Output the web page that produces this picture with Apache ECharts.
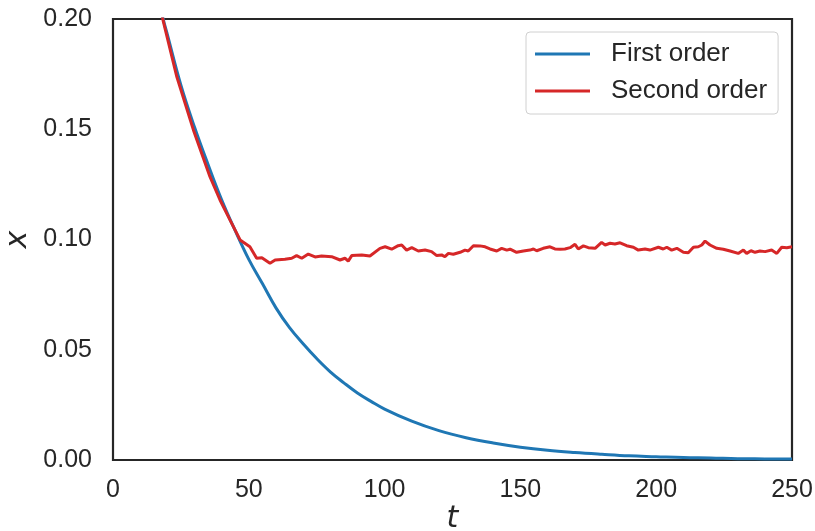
<!DOCTYPE html>
<html>
<head>
<meta charset="utf-8">
<script src="https://cdn.jsdelivr.net/npm/echarts@6/dist/echarts.min.js"></script>
<style>
html,body{margin:0;padding:0;background:#fff;}
#chart{width:815px;height:531px;}
</style>
</head>
<body>
<div id="chart"></div>
<script>
// Series names
const seriesNames = ['First order', 'Second order'];

// First order curve (t, x)
const firstT = [10, 15, 18.5, 20, 25, 30, 35, 40, 45, 50, 55, 60, 65, 70, 75, 80, 85, 90, 95, 100, 110, 120, 130, 140, 150, 160, 170, 180, 190, 200, 210, 220, 230, 240, 250];
const firstX = [0.255, 0.222, 0.200, 0.193, 0.170, 0.151, 0.134, 0.118, 0.104, 0.091, 0.080, 0.069, 0.060, 0.0527, 0.046, 0.040, 0.035, 0.0304, 0.0266, 0.0231, 0.0176, 0.0133, 0.0101, 0.0077, 0.0058, 0.0044, 0.0034, 0.0026, 0.0019, 0.0015, 0.0011, 0.0009, 0.0006, 0.0005, 0.0004];

// Second order curve (t, x)
const secondT = [10, 15, 18.5, 23.5, 29.6, 35.7, 39.4, 43.1, 46.8, 50.4, 52.9, 54.8, 57.8, 59.7, 63.3, 65.8, 67.6, 69.5, 71.9, 74.4, 76.8, 80.5, 83.6, 85.4, 86.6, 87.9, 91.6, 94.6, 98.3, 100.2, 102.6, 105.0, 106.3, 108.1, 110.0, 112.4, 114.9, 117.3, 119.2, 121.0, 122.2, 123.5, 125.3, 127.8, 129.6, 130.8, 132.7, 135.1, 137.0, 138.8, 141.3, 143.1, 145.0, 146.2, 148.6, 151.1, 153.5, 154.8, 156.0, 158.4, 160.9, 162.7, 164.6, 166.4, 168.3, 170.1, 171.3, 173.2, 175.0, 177.5, 179.9, 181.2, 183.0, 184.8, 186.7, 189.1, 191.6, 193.4, 195.9, 197.7, 200.8, 202.6, 203.9, 205.7, 207.6, 210.0, 211.8, 213.7, 215.5, 216.8, 218.0, 219.8, 222.3, 224.7, 227.2, 230.2, 232.1, 233.3, 234.9, 236.4, 238.2, 240.1, 242.5, 244.4, 246.2, 248.1, 250];
const secondX = [0.252, 0.219, 0.199, 0.1738, 0.1497, 0.1285, 0.1179, 0.1088, 0.0998, 0.0967, 0.0915, 0.0917, 0.0892, 0.0907, 0.0910, 0.0915, 0.0927, 0.0915, 0.0934, 0.0921, 0.0925, 0.0922, 0.0907, 0.0915, 0.0902, 0.0927, 0.0930, 0.0925, 0.0960, 0.0967, 0.0956, 0.0972, 0.0975, 0.0952, 0.0963, 0.0948, 0.0952, 0.0945, 0.0927, 0.0930, 0.0922, 0.0937, 0.0933, 0.0942, 0.0952, 0.0948, 0.0972, 0.0971, 0.0967, 0.0957, 0.0948, 0.0960, 0.0952, 0.0956, 0.0942, 0.0948, 0.0952, 0.0957, 0.0949, 0.0960, 0.0967, 0.0957, 0.0956, 0.0957, 0.0963, 0.0978, 0.0957, 0.0971, 0.0963, 0.0960, 0.0987, 0.0975, 0.0983, 0.0980, 0.0985, 0.0972, 0.0965, 0.0952, 0.0957, 0.0952, 0.0965, 0.0957, 0.0965, 0.0952, 0.0960, 0.0942, 0.0940, 0.0965, 0.0967, 0.0975, 0.0993, 0.0975, 0.0960, 0.0956, 0.0948, 0.0937, 0.0952, 0.0937, 0.0949, 0.0942, 0.0948, 0.0945, 0.0952, 0.0937, 0.0965, 0.0963, 0.0967];

// Axis ranges / ticks
const xMin = 0, xMax = 250, xStep = 50;
const yMin = 0, yMax = 0.20, yStep = 0.05;

const firstData = firstT.map((t, i) => [t, firstX[i]]);
const secondData = secondT.map((t, i) => [t, secondX[i]]);

const chart = echarts.init(document.getElementById('chart'), null, {renderer: 'canvas'});
const tickFont = {color: '#262626', fontSize: 25, fontFamily: 'Liberation Sans, Arial, sans-serif'};

chart.setOption({
  animation: false,
  backgroundColor: '#ffffff',
  grid: {
    left: 113, top: 19, right: 23, bottom: 71,
    containLabel: false, outerBoundsMode: 'none',
    show: true, borderColor: '#262626', borderWidth: 2.2, backgroundColor: 'transparent'
  },
  legend: {
    orient: 'vertical',
    left: 526, top: 32,
    padding: [8, 11, 9, 9],
    itemGap: 9,
    itemWidth: 55, itemHeight: 3,
    icon: 'rect',
    backgroundColor: '#ffffff',
    borderColor: '#d0d0d0', borderWidth: 1, borderRadius: 4,
    textStyle: {color: '#262626', fontSize: 26, lineHeight: 28, fontFamily: 'Liberation Sans, Arial, sans-serif', padding: [0, 0, 0, 16]},
    data: seriesNames
  },
  xAxis: {
    type: 'value', min: xMin, max: xMax, interval: xStep,
    name: 't', nameLocation: 'middle', nameGap: 44, nameMoveOverlap: false,
    nameTextStyle: {color: '#262626', fontSize: 30, fontStyle: 'italic', fontFamily: 'DejaVu Sans'},
    axisLine: {show: false}, axisTick: {show: false}, splitLine: {show: false},
    axisLabel: Object.assign({margin: 18}, tickFont)
  },
  yAxis: {
    type: 'value', min: yMin, max: yMax, interval: yStep,
    name: 'x', nameLocation: 'middle', nameGap: 80, nameMoveOverlap: false,
    nameTextStyle: {color: '#262626', fontSize: 30, fontStyle: 'italic', fontFamily: 'DejaVu Sans'},
    axisLine: {show: false}, axisTick: {show: false}, splitLine: {show: false},
    axisLabel: Object.assign({margin: 21, formatter: v => v.toFixed(2)}, tickFont)
  },
  series: [
    {
      name: seriesNames[0], type: 'line', data: firstData, smooth: 0.4,
      symbol: 'none', clip: true,
      lineStyle: {color: '#1f77b4', width: 3},
      itemStyle: {color: '#1f77b4'}
    },
    {
      name: seriesNames[1], type: 'line', data: secondData, smooth: false,
      symbol: 'none', clip: true,
      lineStyle: {color: '#d62728', width: 3},
      itemStyle: {color: '#d62728'}
    }
  ]
});
</script>
</body>
</html>
